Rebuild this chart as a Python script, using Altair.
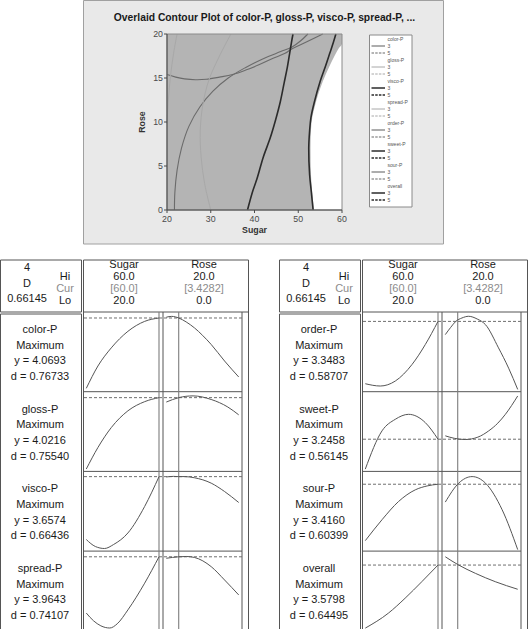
import altair as alt
import pandas as pd

W, H = 531, 629
FONT = "Liberation Sans"

# ======================= DATA =======================
TITLE = "Overlaid Contour Plot of color-P, gloss-P, visco-P, spread-P, ..."
sugar_ticks = [20, 30, 40, 50, 60]
rose_ticks = [0, 5, 10, 15, 20]

# right edge of the feasible (shaded) region
region_rose = [0, 2, 4, 7, 9, 10.5, 12, 13.2, 14.6, 16.2, 17.6, 18.4, 18.9, 20]
region_sugar = [53.6, 53.2, 52.9, 52.8, 52.9, 53.2, 53.9, 54.6, 55.6, 57.0, 58.4, 59.3, 60, 60]

# contour lines (Sugar, Rose)
c1_sugar = [21.7, 21.8, 22.3, 23.3, 25, 27.5, 30.5, 34, 38, 42, 46, 48.5, 50.5, 52.2]
c1_rose = [0, 2, 4.5, 7, 9.5, 11.7, 13.5, 15, 16.2, 17.2, 18, 18.5, 19.2, 20]
c2_sugar = [20, 22, 24, 26.5, 29, 32, 35, 38, 41, 44, 47, 48.5, 51, 53.5, 55.6]
c2_rose = [15.4, 15.1, 14.9, 14.8, 14.85, 15.1, 15.4, 15.9, 16.5, 17.2, 17.8, 18.3, 18.9, 19.5, 20]
c3_sugar = [38.4, 39.5, 40.6, 42, 43.6, 44.8, 45.9, 46.8, 47.5, 48.1, 48.5, 48.8]
c3_rose = [0, 2, 3.6, 6, 8.2, 10.2, 12.3, 14.5, 16.2, 18, 19.2, 20]
c4_sugar = [20.0, 20.3, 20.8, 21.5, 22.3]
c4_rose = [9.8, 12.5, 15.2, 17.8, 20]
c5_sugar = [30, 28.6, 27.8, 27.6, 28.2, 29.6, 31.8, 34.6]
c5_rose = [0, 3, 6, 9, 12, 14.8, 17.3, 20]
c6_sugar = [53.4, 53, 52.6, 52.4, 52.6, 52.9, 53.7, 55, 56.2, 57.2, 58, 58.6]
c6_rose = [0, 2, 4, 7, 9, 10.5, 12.3, 14.6, 16.3, 17.8, 19, 20]

legend_names = ["color-P", "gloss-P", "visco-P", "spread-P", "order-P", "sweet-P", "sour-P", "overall"]
legend_levels = ["3", "5"]

# optimization plot
factor_names = ["Sugar", "Rose"]
factor_hi = ["60.0", "20.0"]
factor_cur_text = ["[60.0]", "[3.4282]"]
factor_lo = ["20.0", "0.0"]
factor_cur = [60.0, 3.4282]
composite = ["4", "D", "0.66145"]
hcl = ["Hi", "Cur", "Lo"]
goal = "Maximum"

left_resp = ["color-P", "gloss-P", "visco-P", "spread-P"]
left_y = [4.0693, 4.0216, 3.6574, 3.9643]
left_d = [0.76733, 0.75540, 0.66436, 0.74107]
left_ydom = [[0.37, 4.37], [0.32, 4.32], [-0.08, 3.92], [0.25, 4.25]]

right_resp = ["order-P", "sweet-P", "sour-P", "overall"]
right_y = [3.3483, 3.2458, 3.4160, 3.5798]
right_d = [0.58707, 0.56145, 0.60399, 0.64495]
right_ydom = [[-0.18, 3.82], [1.63, 5.63], [0.06, 4.06], [0.28, 4.28]]

# response traces: (sugar x, y) and (rose x, y)
color_sx = [20, 26.4, 33.75, 42.9, 52.1, 60]
color_sy = [0.54, 1.66, 2.57, 3.40, 3.90, 4.0693]
color_rx = [0, 1.5, 3.4282, 5.5, 7.8, 10, 12.4, 16.1, 20]
color_ry = [4.11, 4.15, 4.0693, 3.87, 3.57, 3.20, 2.74, 1.91, 1.11]

gloss_sx = [20, 26.4, 33.75, 42.9, 52.1, 60]
gloss_sy = [0.44, 1.52, 2.52, 3.36, 3.82, 4.0216]
gloss_rx = [0, 3.4282, 7.4, 12.4, 17, 20]
gloss_ry = [3.80, 4.0216, 4.11, 3.93, 3.55, 3.16]

visco_sx = [20, 25, 30, 35, 42.9, 52.1, 60]
visco_sy = [0.50, 0.15, 0.05, 0.25, 0.83, 2.16, 3.6574]
visco_rx = [0, 2, 3.4282, 5, 7.8, 12.4, 16.1, 20]
visco_ry = [3.64, 3.67, 3.6574, 3.66, 3.60, 3.33, 2.91, 2.36]

spread_sx = [20, 24, 28, 32.9, 37, 42.9, 52.1, 60]
spread_sy = [1.14, 0.75, 0.50, 0.39, 0.60, 1.30, 2.64, 3.9643]
spread_rx = [0, 3.4282, 5.5, 7.8, 12.4, 16.1, 20]
spread_ry = [3.89, 3.9643, 3.98, 3.93, 3.47, 2.80, 2.05]

order_sx = [20, 28.25, 36.5, 45.7, 53, 60]
order_sy = [0.22, 0.105, 0.355, 1.185, 2.185, 3.3483]
order_rx = [0, 1.5, 2.9, 4.6, 6.45, 8.8, 11.1, 14.7, 17.5, 20]
order_ry = [2.685, 3.05, 3.35, 3.52, 3.605, 3.47, 3.185, 2.02, 1.0, -0.065]

sweet_sx = [20, 29.2, 36.5, 43.8, 53, 60]
sweet_sy = [1.745, 3.665, 4.245, 4.495, 4.08, 3.2458]
sweet_rx = [0, 2.5, 5.5, 9, 12, 14.5, 16.6, 20]
sweet_ry = [3.415, 3.29, 3.23, 3.35, 3.665, 4.05, 4.495, 5.415]

sour_sx = [20, 29.2, 38.3, 47.5, 54, 60]
sour_sy = [0.585, 1.635, 2.55, 3.135, 3.33, 3.416]
sour_rx = [0, 3.7, 7.4, 11.1, 15.7, 20]
sour_ry = [2.52, 3.47, 3.80, 3.47, 2.135, 0.135]

overall_sx = [20, 32.7, 41.9, 51.1, 60]
overall_sy = [0.415, 1.165, 1.915, 2.745, 3.5798]
overall_rx = [0, 3.7, 8.3, 13.8, 20]
overall_ry = [3.995, 3.58, 3.165, 2.745, 2.365]

left_curves = [(color_sx, color_sy, color_rx, color_ry), (gloss_sx, gloss_sy, gloss_rx, gloss_ry),
               (visco_sx, visco_sy, visco_rx, visco_ry), (spread_sx, spread_sy, spread_rx, spread_ry)]
right_curves = [(order_sx, order_sy, order_rx, order_ry), (sweet_sx, sweet_sy, sweet_rx, sweet_ry),
                (sour_sx, sour_sy, sour_rx, sour_ry), (overall_sx, overall_sy, overall_rx, overall_ry)]

# ======================= STYLE / LAYOUT =======================
DARK, MID, LIGHT = "#2b2b2b", "#6b6b6b", "#a8a8a8"
contour_lines = [
    (c1_sugar, c1_rose, MID, 1.1),
    (c2_sugar, c2_rose, MID, 1.1),
    (c4_sugar, c4_rose, LIGHT, 1.0),
    (c5_sugar, c5_rose, LIGHT, 1.0),
    (c3_sugar, c3_rose, DARK, 1.6),
    (c6_sugar, c6_rose, DARK, 1.6),
]
legend_style = {"color-P": (MID, 1.1), "gloss-P": (LIGHT, 1.0), "visco-P": (DARK, 1.5),
                "spread-P": (LIGHT, 1.0), "order-P": (MID, 1.1), "sweet-P": (DARK, 1.5),
                "sour-P": (MID, 1.1), "overall": (DARK, 1.5)}

FRAME = "#555555"
CURVE = "#555555"
CURLINE = "#7d7d7d"
TXT = "#1a1a1a"
GRAYTXT = "#8c8c8c"
FS = 11
AX = "#4a4a4a"


def one():
    return pd.DataFrame({"k": [0]})


def box(x0, x1, y0, y1, stroke=FRAME, fill=None, sw=1):
    kw = dict(stroke=stroke, strokeWidth=sw)
    if fill is None:
        kw["fillOpacity"] = 0
    else:
        kw["fill"] = fill
    return alt.Chart(one()).mark_rect(**kw).encode(
        x=alt.value(x0), x2=alt.value(x1), y=alt.value(y0), y2=alt.value(y1))


layers = []

# ---------- top panel ----------
layers.append(box(83.5, 443.5, 0.5, 244, stroke="#a0a0a0", fill="#e9e9e9"))

SX = alt.Scale(domain=[20, 60], range=[167, 342], nice=False, zero=False)
SY = alt.Scale(domain=[0, 20], range=[210, 34], nice=False, zero=False)

layers.append(alt.Chart(one()).mark_rect(fill="white").encode(
    x=alt.XDatum(20, scale=SX, axis=None), x2=alt.X2Datum(60),
    y=alt.YDatum(0, scale=SY, axis=None), y2=alt.Y2Datum(20)))

reg = pd.DataFrame({"rose": region_rose, "sugar": region_sugar})
layers.append(alt.Chart(reg).mark_area(orient="horizontal", color="#b4b4b4", interpolate="monotone").encode(
    y=alt.Y("rose:Q", scale=SY, axis=None),
    x=alt.X("sugar:Q", scale=SX, axis=None),
    x2=alt.X2Datum(20)))

for xs, ys, col, sw in contour_lines:
    df = pd.DataFrame({"sugar": xs, "rose": ys, "i": list(range(len(xs)))})
    layers.append(alt.Chart(df).mark_line(color=col, strokeWidth=sw, interpolate="catmull-rom").encode(
        x=alt.X("sugar:Q", scale=SX, axis=None),
        y=alt.Y("rose:Q", scale=SY, axis=None),
        order="i:Q"))

# plot frame
layers.append(alt.Chart(one()).mark_rect(fillOpacity=0, stroke="#8a8a8a", strokeWidth=1).encode(
    x=alt.XDatum(20, scale=SX, axis=None), x2=alt.X2Datum(60),
    y=alt.YDatum(0, scale=SY, axis=None), y2=alt.Y2Datum(20)))
# axis lines
layers.append(alt.Chart(one()).mark_rule(color=AX).encode(
    x=alt.XDatum(20, scale=SX, axis=None), x2=alt.X2Datum(60), y=alt.value(210)))
layers.append(alt.Chart(one()).mark_rule(color=AX).encode(
    y=alt.YDatum(0, scale=SY, axis=None), y2=alt.Y2Datum(20), x=alt.value(167)))
# ticks and labels
xt = pd.DataFrame({"v": sugar_ticks, "t": [str(v) for v in sugar_ticks]})
yt = pd.DataFrame({"v": rose_ticks, "t": [str(v) for v in rose_ticks]})
layers.append(alt.Chart(xt).mark_rule(color=AX).encode(
    x=alt.X("v:Q", scale=SX, axis=None), y=alt.value(210), y2=alt.value(213)))
layers.append(alt.Chart(xt).mark_text(font=FONT, fontSize=8.8, color=AX, align="center", baseline="middle").encode(
    x=alt.X("v:Q", scale=SX, axis=None), y=alt.value(218.5), text="t:N"))
layers.append(alt.Chart(yt).mark_rule(color=AX).encode(
    y=alt.Y("v:Q", scale=SY, axis=None), x=alt.value(164), x2=alt.value(167)))
layers.append(alt.Chart(yt).mark_text(font=FONT, fontSize=8.8, color=AX, align="right", baseline="middle").encode(
    y=alt.Y("v:Q", scale=SY, axis=None), x=alt.value(163), text="t:N"))
layers.append(alt.Chart(one()).mark_text(text="Sugar", font=FONT, fontSize=8.8, fontWeight="bold",
                                         color="#333", align="center", baseline="middle").encode(
    x=alt.XDatum(40, scale=SX, axis=None), y=alt.value(229.5)))
layers.append(alt.Chart(one()).mark_text(text="Rose", font=FONT, fontSize=8.8, fontWeight="bold", angle=270,
                                         color="#333", align="center", baseline="middle").encode(
    y=alt.YDatum(10, scale=SY, axis=None), x=alt.value(142)))

layers.append(alt.Chart(one()).mark_text(text=TITLE, font=FONT, fontWeight="bold", fontSize=10.3,
                                         color="#1a1a1a", align="center", baseline="middle").encode(
    x=alt.value(264.5), y=alt.value(17.5)))

# legend
layers.append(box(369.5, 412, 35, 207, stroke="#8a8a8a", fill="white"))
LY = alt.Scale(domain=[0, 24], range=[39, 207], nice=False, zero=False)
leg_txt = []
for g, n in enumerate(legend_names):
    leg_txt.append({"slot": 3 * g, "t": n})
    for s, lv in enumerate(legend_levels):
        leg_txt.append({"slot": 3 * g + 1 + s, "t": lv})
ldf = pd.DataFrame(leg_txt)
layers.append(alt.Chart(ldf).mark_text(font=FONT, fontSize=5, color="#555", align="left", baseline="middle").encode(
    x=alt.value(387.5), y=alt.Y("slot:Q", scale=LY, axis=None), text="t:N"))
for g, n in enumerate(legend_names):
    col, sw = legend_style[n]
    for s in range(2):
        d = pd.DataFrame({"slot": [3 * g + 1 + s]})
        mk = dict(color=col, strokeWidth=sw)
        if s == 1:
            mk["strokeDash"] = [2.5, 1.2]
        layers.append(alt.Chart(d).mark_rule(**mk).encode(
            x=alt.value(371.5), x2=alt.value(385), y=alt.Y("slot:Q", scale=LY, axis=None)))


# ---------- optimization tables ----------
def table(dx, resp, yv, dv, ydom, curves):
    out = []
    TOP, ROWH = 312, 79.7
    BOT = H + 20
    out.append(box(0.5 + dx, 81.5 + dx, 260, 312))
    out.append(box(83.5 + dx, 248.5 + dx, 260, BOT))
    out.append(box(0.5 + dx, 81.5 + dx, 314, BOT))
    out.append(alt.Chart(one()).mark_rule(color=FRAME).encode(
        x=alt.value(83.5 + dx), x2=alt.value(248.5 + dx), y=alt.value(312)))
    for xv in (242 + dx, 163 + dx):
        out.append(alt.Chart(one()).mark_rule(color=FRAME).encode(
            x=alt.value(xv), y=alt.value(312), y2=alt.value(BOT)))
    RY = alt.Scale(domain=[0, 4], range=[TOP, TOP + 4 * ROWH], nice=False, zero=False)
    out.append(alt.Chart(pd.DataFrame({"r": [1, 2, 3]})).mark_rule(color=FRAME).encode(
        x=alt.value(83.5 + dx), x2=alt.value(242 + dx), y=alt.Y("r:Q", scale=RY, axis=None)))

    SXt = alt.Scale(domain=[20, 60], range=[86.3 + dx, 159 + dx], nice=False, zero=False)
    RXt = alt.Scale(domain=[0, 20], range=[166.3 + dx, 238.7 + dx], nice=False, zero=False)
    for sc, cv in ((SXt, factor_cur[0]), (RXt, factor_cur[1])):
        out.append(alt.Chart(one()).mark_rule(color=CURLINE, strokeWidth=1.1).encode(
            x=alt.XDatum(cv, scale=sc, axis=None), y=alt.value(312), y2=alt.value(BOT)))

    for i in range(4):
        Yi = alt.Scale(domain=ydom[i], range=[TOP + ROWH * (i + 1), TOP + ROWH * i], nice=False, zero=False)
        out.append(alt.Chart(one()).mark_rule(color="#6f6f6f", strokeDash=[3, 2], strokeWidth=1).encode(
            x=alt.value(84 + dx), x2=alt.value(242 + dx), y=alt.YDatum(yv[i], scale=Yi, axis=None)))
        sx, sy, rx, ry = curves[i]
        for xs, ys, sc in ((sx, sy, SXt), (rx, ry, RXt)):
            df = pd.DataFrame({"x": xs, "y": ys})
            out.append(alt.Chart(df).mark_line(color=CURVE, strokeWidth=1, interpolate="monotone").encode(
                x=alt.X("x:Q", scale=sc, axis=None), y=alt.Y("y:Q", scale=Yi, axis=None)))

    rows = []
    for i in range(4):
        for j, t in enumerate([resp[i], goal, f"y = {yv[i]:.4f}", f"d = {dv[i]:.5f}"]):
            rows.append({"pos": i + 0.226 + j * 0.1963, "t": t})
    out.append(alt.Chart(pd.DataFrame(rows)).mark_text(font=FONT, fontSize=FS, color=TXT, align="center",
                                                       baseline="middle").encode(
        x=alt.value(40 + dx), y=alt.Y("pos:Q", scale=RY, axis=None), text="t:N"))

    CY = alt.Scale(domain=[0, 2], range=[268.3, 299], nice=False, zero=False)
    out.append(alt.Chart(pd.DataFrame({"l": [0, 1, 2], "t": composite})).mark_text(
        font=FONT, fontSize=FS, color=TXT, align="center", baseline="middle").encode(
        x=alt.value(27 + dx), y=alt.Y("l:Q", scale=CY, axis=None), text="t:N"))
    FY = alt.Scale(domain=[0, 3], range=[265, 301], nice=False, zero=False)
    out.append(alt.Chart(pd.DataFrame({"l": [1, 2, 3], "t": hcl,
                                       "c": [TXT, GRAYTXT, TXT]})).mark_text(
        font=FONT, fontSize=FS, align="center", baseline="middle").encode(
        x=alt.value(65 + dx), y=alt.Y("l:Q", scale=FY, axis=None), text="t:N",
        color=alt.Color("c:N", scale=None)))
    for k, xc in enumerate((124, 204)):
        fdf = pd.DataFrame({"l": [0, 1, 2, 3],
                            "t": [factor_names[k], factor_hi[k], factor_cur_text[k], factor_lo[k]],
                            "c": [TXT, TXT, GRAYTXT, TXT]})
        out.append(alt.Chart(fdf).mark_text(font=FONT, fontSize=FS, align="center", baseline="middle").encode(
            x=alt.value(xc + dx), y=alt.Y("l:Q", scale=FY, axis=None), text="t:N",
            color=alt.Color("c:N", scale=None)))
    return out


layers += table(0, left_resp, left_y, left_d, left_ydom, left_curves)
layers += table(279, right_resp, right_y, right_d, right_ydom, right_curves)

chart = alt.layer(*layers).resolve_scale(x="independent", y="independent").properties(
    width=W, height=H, autosize=alt.AutoSizeParams(type="none"), padding=0, background="white"
).configure_view(stroke=None)

chart.save("out.html", embed_options={"renderer": "svg", "actions": False})
